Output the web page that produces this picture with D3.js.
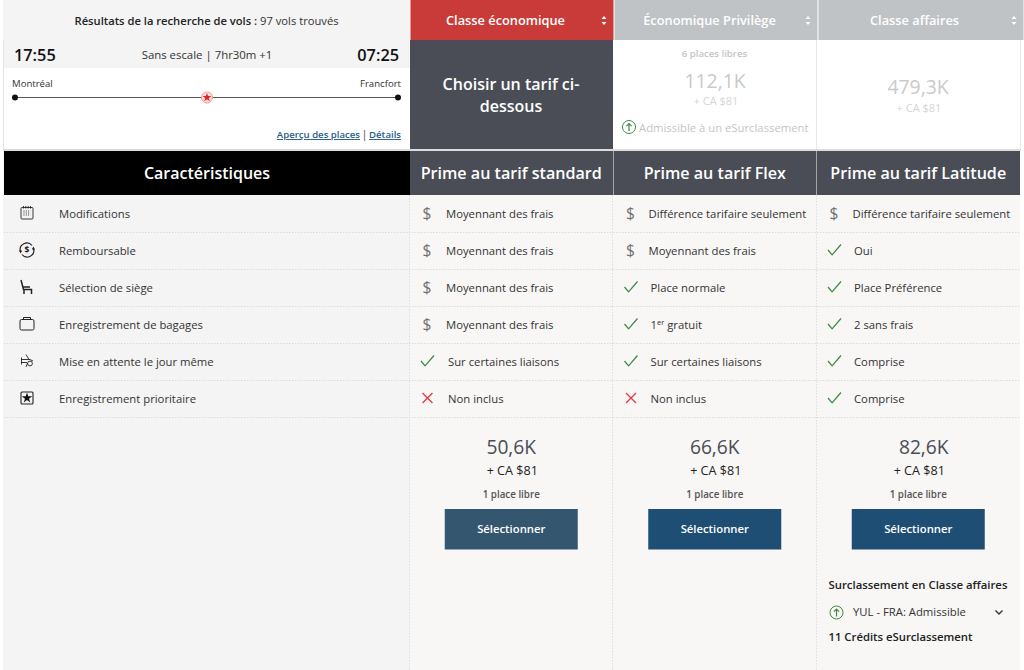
<!DOCTYPE html>
<html lang="fr">
<head>
<meta charset="utf-8">
<script src="https://cdn.jsdelivr.net/npm/d3@7"></script>
<style>
html, body { margin: 0; padding: 0; background: #fff; overflow: hidden; }
svg { display: block; }
text { font-family: "Open Sans", sans-serif; }
</style>
</head>
<body>
<div id="chart"></div>
<script>
const cabins = ["Classe économique", "Économique Privilège", "Classe affaires"];
const fares = ["Prime au tarif standard", "Prime au tarif Flex", "Prime au tarif Latitude"];
const features = ["Modifications", "Remboursable", "Sélection de siège", "Enregistrement de bagages", "Mise en attente le jour même", "Enregistrement prioritaire"];
const featureIcons = ["calendar", "refund", "seat", "bag", "standby", "star"];
const standardCells = ["Moyennant des frais", "Moyennant des frais", "Moyennant des frais", "Moyennant des frais", "Sur certaines liaisons", "Non inclus"];
const flexCells = ["Différence tarifaire seulement", "Moyennant des frais", "Place normale", "1er gratuit", "Sur certaines liaisons", "Non inclus"];
const latitudeCells = ["Différence tarifaire seulement", "Oui", "Place Préférence", "2 sans frais", "Comprise", "Comprise"];
const standardMarks = ["fee", "fee", "fee", "fee", "yes", "no"];
const flexMarks = ["fee", "fee", "yes", "yes", "yes", "no"];
const latitudeMarks = ["fee", "yes", "yes", "yes", "yes", "yes"];
const prices = ["50,6K", "66,6K", "82,6K"];
const taxes = ["+ CA $81", "+ CA $81", "+ CA $81"];
const seatsLeft = ["1 place libre", "1 place libre", "1 place libre"];

const width = 1024, height = 670;
const colX = d3.scaleBand().domain(fares).range([409.5, 1020]);
const rowY = d3.scaleBand().domain(features).range([195, 417]);
const colW = colX.bandwidth(), rowH = rowY.bandwidth();
const bodySize = 11.3;

const svg = d3.select("#chart").append("svg")
    .attr("width", width)
    .attr("height", height);

function box(x, y, w, h, fill) {
    return svg.append("rect").attr("x", x).attr("y", y).attr("width", w).attr("height", h).attr("fill", fill);
}

function label(x, y, str, size, fill, weight, anchor) {
    return svg.append("text")
        .attr("x", x).attr("y", y)
        .attr("font-size", size)
        .attr("fill", fill)
        .attr("font-weight", weight || 400)
        .attr("text-anchor", anchor || "start")
        .text(str);
}

// backgrounds
box(3, 0, 407, 670, "#f4f4f4");
box(4, 68, 406, 81, "#ffffff");
box(410, 195, 610, 475, "#f8f7f6");
box(3, 40, 1, 110, "#e4e4e4");

// top left block
const head = label(206.5, 25, "Résultats de la recherche de vols :", 11.2, "#222", 600, "middle");
head.append("tspan").attr("font-weight", 400).attr("fill", "#333").text(" 97 vols trouvés");
label(14, 61, "17:55", 16.3, "#111", 600);
label(399, 61, "07:25", 16.3, "#111", 600, "end");
label(207, 59, "Sans escale | 7hr30m +1", 11.4, "#333", 400, "middle");
label(12, 86.5, "Montréal", 9.6, "#333");
label(401, 86.5, "Francfort", 9.6, "#333", 400, "end");

svg.append("line").attr("x1", 15).attr("x2", 398).attr("y1", 97.5).attr("y2", 97.5).attr("stroke", "#555").attr("stroke-width", 1);
svg.selectAll(".stop").data([15, 398]).enter().append("circle")
    .attr("class", "stop").attr("cx", d => d).attr("cy", 97.5).attr("r", 3).attr("fill", "#111");
svg.append("circle").attr("cx", 207).attr("cy", 97.5).attr("r", 5.6).attr("fill", "#fbdcd9").attr("stroke", "#ee8a82").attr("stroke-width", 0.8);
svg.append("path").attr("transform", "translate(207,97.5)")
    .attr("d", d3.symbol(d3.symbolStar, 24)()).attr("fill", "#d8232a");

label(360, 138, "Aperçu des places", 9.6, "#2a5d86", 600, "end").attr("text-decoration", "underline");
label(364.5, 138, "|", 10, "#333", 400, "middle");
label(401, 138, "Détails", 9.6, "#2a5d86", 600, "end").attr("text-decoration", "underline");

// cabin tabs
const tabEdges = [410, 614, 818, 1024];
const tabFills = ["#c83b38", "#bfc3c6", "#bfc3c6"];
cabins.forEach((c, i) => {
    box(tabEdges[i] + 0.5, 0, tabEdges[i + 1] - tabEdges[i] - 1, 40, tabFills[i]);
    label((tabEdges[i] + tabEdges[i + 1]) / 2 - 6.5, 25, c, 12.8, "#fff", 600, "middle");
    const ax = tabEdges[i + 1] - 10;
    svg.append("path").attr("d", `M${ax - 2.5},19 L${ax},16 L${ax + 2.5},19 Z M${ax - 2.5},22 L${ax},25 L${ax + 2.5},22 Z`).attr("fill", "#fff");
});

// fare summary row
box(410, 40, 203, 109, "#4a4d55");
label(511, 90, "Choisir un tarif ci-", 16, "#fff", 600, "middle");
label(511, 112, "dessous", 16, "#fff", 600, "middle");
box(613, 40, 407, 109, "#ffffff");
svg.append("line").attr("x1", 816.5).attr("x2", 816.5).attr("y1", 40).attr("y2", 149).attr("stroke", "#e8e8e8");
svg.append("line").attr("x1", 1020.5).attr("x2", 1020.5).attr("y1", 40).attr("y2", 149).attr("stroke", "#e8e8e8");

label(714.5, 57, "6 places libres", 9.6, "#c3c5c7", 600, "middle");
label(715, 88, "112,1K", 19.4, "#c8cacc", 400, "middle");
label(716, 105, "+ CA $81", 11, "#d4d5d7", 400, "middle");
label(918, 94, "479,3K", 19.4, "#c8cacc", 400, "middle");
label(919, 112, "+ CA $81", 11, "#d4d5d7", 400, "middle");
label(639, 132, "Admissible à un eSurclassement", 11.3, "#c3c5c7");
upArrow(629, 127);

// header bars
box(3, 149, 1018, 2, "#dcdcdc");
box(4, 151, 406, 44, "#000000");
label(207, 179, "Caractéristiques", 16, "#fff", 600, "middle");
fares.forEach(f => {
    box(colX(f) + 0.5, 151, colW - 0.5, 44, "#4a4d55");
    label(colX(f) + colW / 2, 179, f, 16.1, "#fff", 600, "middle");
});

// column separators and row dividers
svg.selectAll(".row-line").data(features).enter().append("line")
    .attr("class", "row-line")
    .attr("x1", 4).attr("x2", 1020)
    .attr("y1", d => rowY(d) + rowH + 0.5).attr("y2", d => rowY(d) + rowH + 0.5)
    .attr("stroke", "#dcdcdc").attr("stroke-dasharray", "1.5,1.5");
svg.selectAll(".col-line").data(fares).enter().append("line")
    .attr("class", "col-line")
    .attr("x1", d => Math.round(colX(d)) - 0.5).attr("x2", d => Math.round(colX(d)) - 0.5)
    .attr("y1", 195).attr("y2", 670)
    .attr("stroke", "#dedede").attr("stroke-dasharray", "1.5,1.5");

// feature labels
svg.selectAll(".feature").data(features).enter().append("text")
    .attr("class", "feature")
    .attr("x", 59)
    .attr("y", d => rowY(d) + rowH / 2 + 4)
    .attr("font-size", bodySize)
    .attr("fill", "#333")
    .text(d => d);

features.forEach((f, i) => featureIcon(featureIcons[i], 27, rowY(f) + rowH / 2 - 0.5));

// fare cells
const cellData = [standardCells, flexCells, latitudeCells];
const markData = [standardMarks, flexMarks, latitudeMarks];
const textOffset = { fee: [36.5, 35.5, 36], yes: [38.5, 37.5, 37.5], no: [38.5, 37.5, 37.5] };
fares.forEach((fare, c) => {
    features.forEach((f, r) => {
        const kind = markData[c][r];
        const cy = rowY(f) + rowH / 2 - 0.5;
        const x = colX(fare);
        drawMark(kind, x + 18, cy);
        const t = label(x + textOffset[kind][c], cy + 4.5, "", bodySize, "#333");
        const str = cellData[c][r];
        if (str.startsWith("1er")) {
            t.append("tspan").text("1");
            t.append("tspan").attr("font-size", 7.5).attr("dy", -3.5).text("er");
            t.append("tspan").attr("dy", 3.5).text(str.slice(3));
        } else {
            t.text(str);
        }
    });
});

// prices and buttons, the Latitude price sits a little right of its column centre
const priceShift = [0, 0, 5.5];
fares.forEach((fare, c) => {
    const mid = colX(fare) + colW / 2;
    label(mid + priceShift[c], 454, prices[c], 19.2, "#4a4d55", 400, "middle");
    label(mid + 1, 475, taxes[c], 12.6, "#222", 400, "middle");
    label(mid, 498, seatsLeft[c], 9.8, "#555", 600, "middle");
    box(mid - 66.5, 509, 133, 40.5, c === 0 ? "#35566f" : "#1e4e74");
    label(mid, 533, "Sélectionner", 11.3, "#fff", 600, "middle");
});

// upgrade block
label(828.5, 589, "Surclassement en Classe affaires", 11.35, "#222", 600);
upArrow(836.5, 612.5);
label(853, 616, "YUL - FRA: Admissible", 11.3, "#333");
svg.append("path").attr("d", "M995.5,610.5 L999,614 L1002.5,610.5").attr("fill", "none").attr("stroke", "#333").attr("stroke-width", 1.4);
label(828.5, 641, "11 Crédits eSurclassement", 11.3, "#222", 600);

function upArrow(cx, cy) {
    const g = svg.append("g").attr("transform", `translate(${cx},${cy})`)
        .attr("fill", "none").attr("stroke", "#3f8a45");
    g.append("circle").attr("r", 6.5).attr("stroke-width", 1);
    g.append("path").attr("d", "M0,4 V-3.5 M-2.6,-0.8 L0,-3.5 L2.6,-0.8").attr("stroke-width", 1.2);
}

function drawMark(kind, cx, cy) {
    if (kind === "fee") {
        label(cx - 0.5, cy + 5.5, "$", 15.5, "#707070", 400, "middle");
    } else if (kind === "yes") {
        svg.append("path").attr("transform", `translate(${cx},${cy})`)
            .attr("d", "M-6.5,0 L-2.4,4.8 L6.5,-5.5").attr("fill", "none").attr("stroke", "#3f8a45").attr("stroke-width", 1.3);
    } else {
        svg.append("path").attr("transform", `translate(${cx},${cy})`)
            .attr("d", "M-5,-5 L5,5 M5,-5 L-5,5").attr("fill", "none").attr("stroke", "#e23b3b").attr("stroke-width", 1.3);
    }
}

function featureIcon(name, cx, cy) {
    const g = svg.append("g").attr("transform", `translate(${cx},${cy})`)
        .attr("fill", "none").attr("stroke", "#222").attr("stroke-width", 0.9);
    if (name === "calendar") {
        g.append("rect").attr("x", -6).attr("y", -5.5).attr("width", 12).attr("height", 11.5).attr("rx", 1);
        g.append("path").attr("d", "M-3.5,-7 V-4.5 M-1.2,-7 V-4.5 M1.2,-7 V-4.5 M3.5,-7 V-4.5");
        g.append("path").attr("d", "M-3.5,-2 H3.5 M-3.5,0 H3.5 M-3.5,2 H3.5").attr("stroke-dasharray", "1,1.3");
    } else if (name === "refund") {
        g.append("path").attr("d", "M-6.5,1.5 A6.6,6.6 0 0 1 5,-4.5 M6.5,-1.5 A6.6,6.6 0 0 1 -5,4.5").attr("stroke-width", 1.2);
        g.append("path").attr("d", "M-8,0.5 L-4.8,0.5 L-6.4,3.5 Z M8,-0.5 L4.8,-0.5 L6.4,-3.5 Z").attr("fill", "#222").attr("stroke", "none");
        g.append("text").attr("y", 3.2).attr("text-anchor", "middle").attr("font-size", 8.5).attr("font-weight", 700)
            .attr("fill", "#222").attr("stroke", "none").text("$");
    } else if (name === "seat") {
        g.append("path").attr("d", "M-6,-7 L-3.5,2.5 H4.5 V7 M-3,2.5 V7 M-3.5,0 H3").attr("stroke-width", 1.5);
    } else if (name === "bag") {
        g.append("rect").attr("x", -7).attr("y", -4.5).attr("width", 14).attr("height", 10.5).attr("rx", 1.5).attr("stroke-width", 1);
        g.append("path").attr("d", "M-3.5,-4.5 V-6.5 H3.5 V-4.5").attr("stroke-width", 1);
    } else if (name === "standby") {
        g.append("path").attr("d", "M-6,-1.5 H3 L6,0 M-6,1.5 H0 M-5.5,-3.5 V3.5 M-1,-6.5 L2,-1.5 M-1,6 L0.5,2");
        g.append("circle").attr("cx", 3).attr("cy", 2.5).attr("r", 2.4);
    } else if (name === "star") {
        g.append("rect").attr("x", -6).attr("y", -6).attr("width", 12).attr("height", 12).attr("rx", 1).attr("stroke-width", 1.1);
        g.append("path").attr("d", d3.symbol(d3.symbolStar, 34)()).attr("fill", "#111").attr("stroke", "none");
    }
}
</script>
</body>
</html>
